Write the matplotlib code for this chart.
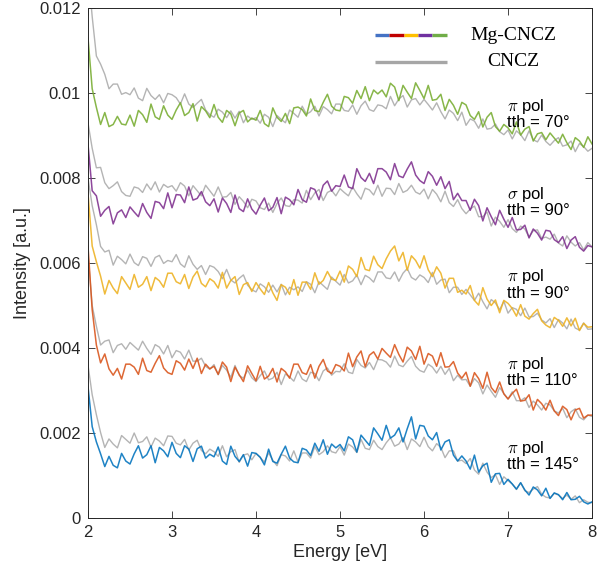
import matplotlib
matplotlib.use("Agg")
import matplotlib.pyplot as plt
import numpy as np

# ENERGY GRID [eV] - ONE SAMPLE EVERY 0.05 eV FROM 2 TO 8
energy = np.linspace(2.0, 8.0, 121)

# INTENSITIES, IN UNITS OF 1e-5 a.u.
# Mg-CNCZ (coloured) AND CNCZ (grey), ONE PAIR PER GEOMETRY
mg_145 = [310, 215, 179, 151, 121, 145, 124, 118, 152, 134,
          127, 151, 170, 141, 149, 170, 130, 166, 158, 144,
          178, 152, 142, 170, 162, 133, 163, 169, 141, 150,
          144, 167, 134, 126, 169, 145, 133, 149, 122, 154,
          152, 143, 125, 162, 133, 129, 150, 169, 141, 132,
          130, 164, 160, 147, 176, 157, 184, 150, 174, 165,
          173, 158, 191, 184, 155, 195, 183, 171, 212, 198,
          183, 218, 188, 195, 212, 179, 210, 238, 186, 218,
          216, 193, 184, 201, 160, 179, 184, 148, 134, 146,
          134, 115, 148, 108, 123, 129, 84, 104, 105, 79,
          91, 80, 68, 83, 66, 54, 73, 66, 52, 70,
          46, 59, 55, 43, 60, 43, 44, 51, 38, 33,
          38]
cncz_145 = [360, 290, 243, 201, 166, 186, 174, 165, 194, 185,
            176, 200, 177, 180, 191, 167, 188, 181, 170, 193,
            192, 176, 172, 185, 160, 176, 183, 159, 151, 162,
            156, 145, 170, 144, 156, 161, 131, 148, 151, 137,
            152, 142, 132, 153, 136, 123, 149, 146, 134, 158,
            132, 153, 153, 141, 168, 149, 156, 170, 156, 153,
            168, 148, 174, 167, 154, 185, 164, 161, 183, 168,
            161, 177, 189, 169, 174, 189, 161, 186, 179, 168,
            190, 168, 158, 175, 166, 142, 158, 158, 134, 136,
            128, 140, 113, 103, 129, 108, 95, 102, 79, 97,
            88, 80, 67, 83, 64, 60, 68, 74, 56, 49,
            47, 58, 54, 46, 54, 44, 52, 36, 43, 37,
            36]

mg_110 = [640, 490, 407, 365, 386, 351, 336, 352, 327, 362,
          362, 355, 338, 376, 347, 343, 364, 382, 353, 342,
          338, 370, 364, 348, 374, 352, 376, 340, 362, 351,
          357, 338, 367, 355, 321, 355, 337, 321, 358, 340,
          323, 357, 327, 334, 352, 320, 352, 344, 329, 362,
          362, 342, 338, 361, 329, 357, 373, 346, 340, 361,
          357, 346, 388, 356, 379, 393, 356, 383, 391, 374,
          399, 388, 378, 408, 385, 367, 402, 393, 373, 404,
          362, 387, 381, 357, 389, 355, 356, 368, 341, 329,
          343, 310, 342, 328, 305, 343, 307, 295, 320, 292,
          280, 293, 303, 275, 277, 290, 254, 279, 269, 254,
          277, 252, 241, 263, 255, 231, 254, 258, 235, 242,
          242]
cncz_110 = [620, 500, 451, 407, 416, 419, 389, 406, 410, 397,
            413, 404, 395, 416, 399, 385, 408, 402, 386, 406,
            377, 394, 390, 374, 395, 369, 369, 376, 357, 350,
            361, 337, 359, 348, 331, 359, 335, 329, 348, 330,
            321, 335, 346, 325, 329, 343, 314, 339, 332, 322,
            346, 327, 321, 343, 340, 323, 346, 353, 336, 345,
            344, 363, 343, 340, 373, 359, 353, 366, 349, 373,
            372, 367, 355, 381, 360, 356, 369, 380, 357, 347,
            343, 362, 355, 341, 357, 338, 352, 323, 336, 325,
            326, 310, 328, 318, 292, 313, 298, 284, 307, 293,
            280, 297, 276, 276, 283, 260, 275, 266, 254, 270,
            266, 252, 247, 258, 236, 250, 257, 237, 231, 242,
            239]

mg_90pi = [765, 640, 603, 569, 527, 559, 541, 528, 568, 553,
           538, 573, 543, 550, 568, 535, 566, 558, 543, 576,
           576, 556, 551, 573, 540, 567, 581, 552, 544, 563,
           556, 541, 578, 541, 559, 568, 526, 549, 554, 533,
           554, 539, 526, 554, 530, 512, 549, 543, 526, 561,
           524, 555, 555, 538, 577, 550, 559, 580, 562, 559,
           581, 555, 593, 585, 568, 613, 585, 582, 616, 596,
           587, 610, 628, 640, 605, 625, 583, 617, 606, 588,
           617, 584, 568, 591, 576, 541, 564, 564, 531, 536,
           527, 547, 512, 501, 542, 515, 500, 513, 483, 512,
           505, 493, 475, 502, 475, 468, 481, 491, 464, 454,
           448, 472, 465, 451, 471, 452, 470, 441, 458, 449,
           450]
cncz_90pi = [800, 735, 690, 639, 626, 630, 595, 616, 608, 598,
             621, 601, 594, 615, 611, 592, 613, 618, 599, 606,
             603, 620, 598, 590, 617, 597, 585, 594, 573, 594,
             590, 580, 563, 585, 560, 553, 564, 572, 548, 537,
             532, 551, 544, 531, 548, 532, 550, 525, 543, 537,
             544, 533, 556, 550, 530, 556, 547, 538, 567, 557,
             548, 573, 553, 558, 572, 549, 571, 565, 555, 579,
             579, 565, 563, 579, 557, 576, 587, 566, 560, 572,
             566, 554, 578, 550, 560, 562, 530, 543, 543, 526,
             538, 525, 512, 529, 509, 492, 514, 506, 490, 510,
             482, 495, 491, 476, 494, 473, 474, 482, 466, 459,
             469, 448, 467, 459, 445, 468, 447, 442, 459, 444,
             445]

mg_90sigma = [880, 770, 758, 710, 724, 733, 692, 718, 725, 707,
              732, 720, 709, 740, 719, 705, 745, 742, 728, 765,
              730, 761, 760, 742, 779, 748, 752, 768, 744, 735,
              751, 720, 753, 740, 719, 760, 728, 721, 751, 727,
              715, 736, 753, 723, 731, 754, 716, 755, 749, 737,
              773, 749, 743, 777, 773, 749, 783, 793, 769, 782,
              780, 807, 779, 775, 822, 801, 792, 811, 787, 822,
              822, 814, 796, 834, 805, 801, 821, 838, 807, 794,
              787, 815, 804, 783, 803, 775, 792, 749, 764, 747,
              747, 724, 750, 735, 699, 730, 709, 690, 724, 703,
              684, 707, 678, 679, 689, 659, 680, 670, 654, 677,
              675, 655, 648, 662, 634, 654, 662, 637, 628, 641,
              638]
cncz_90sigma = [930, 870, 824, 825, 789, 775, 782, 791, 768, 759,
                757, 779, 776, 766, 786, 772, 791, 767, 785, 778,
                782, 769, 789, 781, 758, 782, 770, 758, 783, 770,
                757, 779, 755, 756, 766, 738, 756, 745, 730, 750,
                746, 730, 726, 741, 719, 740, 753, 735, 733, 749,
                748, 741, 771, 749, 765, 773, 747, 766, 771, 758,
                775, 766, 758, 779, 763, 750, 776, 772, 760, 783,
                757, 776, 775, 761, 787, 766, 771, 783, 767, 762,
                774, 751, 773, 762, 744, 769, 742, 733, 749, 728,
                716, 727, 734, 709, 709, 720, 687, 708, 698, 684,
                702, 681, 672, 687, 680, 661, 676, 678, 658, 661,
                656, 668, 647, 640, 664, 649, 640, 648, 631, 648,
                638]

mg_70 = [1130, 1010, 966, 926, 954, 921, 926, 945, 927, 925,
         948, 922, 959, 949, 931, 974, 944, 938, 970, 948,
         938, 960, 977, 947, 954, 975, 934, 968, 958, 942,
         973, 943, 931, 959, 951, 923, 953, 959, 932, 941,
         936, 959, 928, 921, 965, 943, 933, 952, 928, 965,
         967, 961, 946, 986, 959, 956, 978, 997, 969, 960,
         958, 992, 989, 976, 1006, 987, 1015, 982, 1007, 998,
         1007, 991, 1023, 1014, 982, 1018, 1002, 987, 1024, 1006,
         987, 1018, 983, 985, 997, 959, 985, 971, 950, 978,
         972, 947, 938, 956, 920, 943, 954, 921, 910, 926,
         918, 904, 932, 901, 915, 921, 887, 904, 907, 890,
         906, 894, 882, 903, 883, 867, 895, 887, 872, 897,
         880]
cncz_70 = [1290, 1180, 1087, 1068, 1044, 1010, 1021, 1021, 997, 1001,
           996, 1012, 988, 982, 1011, 994, 985, 996, 977, 999,
           996, 989, 974, 998, 974, 966, 976, 985, 960, 949,
           943, 962, 955, 942, 958, 941, 957, 930, 946, 938,
           942, 929, 950, 943, 921, 947, 938, 930, 960, 952,
           943, 969, 950, 956, 969, 946, 968, 961, 951, 974,
           974, 959, 957, 972, 950, 970, 981, 961, 957, 972,
           970, 963, 992, 970, 986, 994, 967, 984, 987, 972,
           985, 973, 960, 977, 956, 939, 960, 952, 935, 955,
           924, 939, 934, 917, 939, 915, 917, 927, 909, 902,
           913, 892, 911, 902, 888, 911, 890, 885, 901, 886,
           877, 888, 895, 875, 878, 887, 862, 881, 874, 863,
           870]

UNIT = 1e-5

# LABELS FOR EACH GEOMETRY (BOTTOM TO TOP)
pol_labels = [r'$\pi$ pol', r'$\pi$ pol', r'$\pi$ pol', r'$\sigma$ pol', r'$\pi$ pol']
tth_labels = ['tth = 145°', 'tth = 110°', 'tth = 90°', 'tth = 90°', 'tth = 70°']

# AXIS TICKS
x_ticks = [2, 3, 4, 5, 6, 7, 8]
y_ticks = [0, 0.002, 0.004, 0.006, 0.008, 0.010, 0.012]
y_tick_labels = ['0', '0.002', '0.004', '0.006', '0.008', '0.01', '0.012']


def main():
    plt.rcParams['font.family'] = ['Liberation Sans', 'DejaVu Sans']
    plt.rcParams['mathtext.fontset'] = 'cm'

    mg_series = [mg_145, mg_110, mg_90pi, mg_90sigma, mg_70]
    ref_series = [cncz_145, cncz_110, cncz_90pi, cncz_90sigma, cncz_70]
    colors = ['#0072BD', '#D95319', '#EDB120', '#7E2F8E', '#77AC30']
    grey = '#B4B4B4'

    # BASELINE OF THE "tth = ..." LINE OF EACH LABEL (DATA UNITS)
    label_y = [0.00115, 0.00313, 0.00518, 0.00713, 0.00920]

    fig = plt.figure(figsize=(6.11, 5.73), dpi=100)
    ax = fig.add_axes([0.144, 0.096, 0.825, 0.890])

    for mg, ref, col in zip(mg_series, ref_series, colors):
        ax.plot(energy, np.array(ref) * UNIT, color=grey, lw=1.0)
        ax.plot(energy, np.array(mg) * UNIT, color=col, lw=1.1, alpha=0.88)

    for pl, tl, ly in zip(pol_labels, tth_labels, label_y):
        ax.text(6.99, ly, pl + '\n' + tl, fontsize=12, va='baseline',
                ha='left', linespacing=0.95)

    # HAND-MADE LEGEND (MULTICOLOURED BAR FOR Mg-CNCZ)
    leg_cols = ['#4472C4', '#C00000', '#FFC000', '#7030A0', '#70AD47']
    x0, seg = 0.569, 0.0286
    for i, c in enumerate(leg_cols):
        ax.plot([x0 + i * seg, x0 + (i + 1) * seg], [0.947, 0.947], color=c,
                lw=2.4, solid_capstyle='butt', transform=ax.transAxes)
    ax.plot([x0, x0 + 5 * seg], [0.894, 0.894], color='#A6A6A6', lw=2.4,
            solid_capstyle='butt', transform=ax.transAxes)
    ax.text(0.843, 0.947, 'Mg-CNCZ', transform=ax.transAxes, fontsize=14,
            family='Liberation Serif', ha='center', va='center')
    ax.text(0.843, 0.896, 'CNCZ', transform=ax.transAxes, fontsize=14,
            family='Liberation Serif', ha='center', va='center')

    ax.set_xlim(2, 8)
    ax.set_ylim(0, 0.012)
    ax.set_xticks(x_ticks)
    ax.set_xticklabels([str(t) for t in x_ticks])
    ax.set_yticks(y_ticks)
    ax.set_yticklabels(y_tick_labels)
    ax.tick_params(direction='in', top=True, right=True, length=5, width=0.6,
                   labelsize=12, colors='#262626', pad=5)
    for s in ax.spines.values():
        s.set_linewidth(0.7)
        s.set_color('#262626')
    ax.set_xlabel('Energy [eV]', fontsize=13, color='#262626', labelpad=3)
    ax.set_ylabel('Intensity [a.u.]', fontsize=13, color='#262626', labelpad=6)

    fig.savefig('out.png', dpi=100)


if __name__ == "__main__":
    main()
